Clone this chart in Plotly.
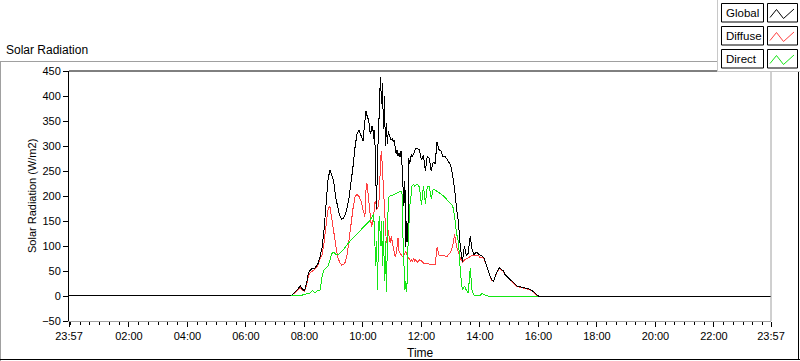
import pandas as pd
import plotly.graph_objects as go

# ---------------- data ----------------
DAY = "2024-01-02"
X_START = "2024-01-01 23:57"
X_END = "2024-01-02 23:57"
NIGHT_VALUE = 0

TIMES = [
    "07:20", "07:24", "07:28", "07:32", "07:36", "07:40", "07:44", "07:48",
    "07:52", "07:56", "08:00", "08:04", "08:08", "08:12", "08:16", "08:20",
    "08:24", "08:28", "08:32", "08:36", "08:40", "08:44", "08:48", "08:52",
    "08:56", "09:00", "09:04", "09:08", "09:12", "09:16", "09:20", "09:24",
    "09:28", "09:32", "09:36", "09:40", "09:44", "09:48", "09:52", "09:56",
    "10:00",
    "10:02", "10:04", "10:06", "10:08", "10:10", "10:12", "10:14", "10:16",
    "10:18", "10:20", "10:22", "10:24", "10:26", "10:28", "10:30", "10:32",
    "10:34", "10:36", "10:38", "10:40", "10:42", "10:44", "10:46", "10:48",
    "10:50", "10:52", "10:54", "10:56", "10:58", "11:00", "11:02", "11:04",
    "11:06", "11:08", "11:10", "11:12", "11:14", "11:16", "11:18", "11:20",
    "11:22", "11:24", "11:26", "11:28", "11:30", "11:32", "11:34", "11:36",
    "11:38", "11:40", "11:42", "11:44", "11:46", "11:48",
    "11:52", "11:56", "12:00", "12:04", "12:08", "12:12", "12:16", "12:20",
    "12:24", "12:28", "12:32", "12:36", "12:40", "12:44", "12:48", "12:52",
    "12:56", "13:00", "13:04", "13:08", "13:12", "13:16", "13:20", "13:24",
    "13:28", "13:32", "13:36", "13:40", "13:44", "13:48", "13:52", "13:56",
    "14:00", "14:04", "14:08", "14:12", "14:16", "14:20", "14:24", "14:28",
    "14:32", "14:36", "14:40", "14:44", "14:48", "14:52", "14:56", "15:00",
    "15:04", "15:08", "15:12", "15:16", "15:20", "15:24", "15:28", "15:32",
    "15:36", "15:40", "15:44", "15:48", "15:52", "15:56", "16:00", "16:04",
]

GLOBAL = [
    0, 0, 0, 1, 3, 7, 11, 17,
    20, 13, 11, 24, 45, 52, 55, 54,
    60, 65, 79, 96, 130, 178, 230, 252,
    241, 230, 198, 178, 161, 154, 156, 163,
    178, 200, 228, 262, 300, 325, 332, 322,
    310,
    330, 350, 370, 362, 355, 350, 330, 325,
    340, 338, 315, 332, 250, 175, 290, 320,
    395, 437, 385, 425, 335, 400, 300, 345,
    305, 330, 322, 318, 312, 315, 308, 312,
    295, 285, 292, 280, 285, 278, 290, 265,
    220, 180, 230, 99, 150, 108, 275, 265,
    278, 282, 280, 286, 290, 295,
    295, 292, 272, 281, 250, 280, 276, 250,
    268, 265, 308, 293, 290, 279, 280, 273,
    269, 262, 240, 215, 175, 146, 95, 68,
    100, 80, 86, 120, 92, 82, 88, 84,
    82, 80, 76, 66, 52, 42, 33, 30,
    42, 51, 56, 53, 50, 42, 38, 35,
    30, 26, 22, 20, 19, 18, 17, 17,
    16, 15, 13, 10, 6, 3, 0, 0,
]

DIFFUSE = [
    0, 0, 0, 1, 3, 6, 10, 14,
    16, 12, 10, 21, 40, 47, 50, 52,
    57, 62, 75, 82, 105, 138, 172, 180,
    155, 125, 97, 78, 68, 62, 63, 68,
    85, 115, 155, 178, 199, 203, 199, 190,
    173,
    165, 159, 210, 226, 210, 195, 170, 150,
    139, 148, 160, 186, 190, 173, 176, 180,
    205, 275, 290, 253, 230, 186, 150, 106,
    120, 132, 115, 106, 119, 110, 99, 88,
    79, 84, 100, 116, 90, 86, 82, 80,
    79, 82, 85, 89, 82, 79, 74, 72,
    69, 72, 70, 75, 69, 72,
    68, 72, 70, 66, 66, 65, 64, 63,
    62, 63, 97, 82, 80, 82, 80, 78,
    84, 88, 100, 124, 98, 84, 75, 68,
    72, 75, 76, 79, 82, 80, 82, 82,
    77, 77, 75, 65, 51, 41, 32, 29,
    41, 50, 55, 52, 49, 41, 37, 34,
    29, 25, 21, 19, 18, 17, 16, 16,
    15, 14, 12, 9, 5, 2, 0, 0,
]

DIRECT = [
    None, None, None, 0, 0, 0, 0, 1,
    1, 2, 3, 4, 5, 6, 11, 7,
    8, 12, 12, 38, 52, 56, 60, 70,
    85, 88, 83, 82, 85, 89, 93, 99,
    103, 108, 112, 116, 119, 123, 127, 131,
    135,
    138, 140, 142, 144, 146, 149, 151, 154,
    157, 161, 163, 120, 60, 110, 12, 140,
    159, 100, 150, 60, 150, 30, 110, 9,
    130, 195, 199, 201, 200, 201, 203, 203,
    204, 205, 206, 207, 208, 209, 209, 209,
    120, 50, 12, 30, 9, 90, 160, 180,
    193, 219, 222, 223, 220, 222,
    223, 218, 182, 220, 185, 218, 219, 195,
    213, 212, 209, 207, 204, 201, 197, 193,
    190, 186, 181, 160, 125, 108, 45, 12,
    20, 12, 6, 55, 8, 2, 1, 0,
    1, 5, 3, 1, 0, 0, 0, 0,
    1, 1, 1, 1, 0, 0, 0, 0,
    0, 0, 0, 0, 0, 0, 0, 0,
    0, 0, 0, 0, 0, 0, 0, None,
]

Y_TICKS = [-50, 0, 50, 100, 150, 200, 250, 300, 350, 400, 450]
X_TICK_TIMES = [X_START] + [f"{DAY} {h:02d}:00" for h in range(2, 24, 2)] + [X_END]
X_TICK_LABELS = ["23:57", "02:00", "04:00", "06:00", "08:00", "10:00", "12:00",
                 "14:00", "16:00", "18:00", "20:00", "22:00", "23:57"]

SERIES_NAMES = ["Global", "Diffuse", "Direct"]
COLORS = {"Global": "#000000", "Diffuse": "#FF4040", "Direct": "#14E614"}

# ---------------- figure ----------------
W, H = 800, 361
L, R, T, B = 69, 29, 71, 40
PW, PH = W - L - R, H - T - B
FONT = "Liberation Sans, Arial, sans-serif"


def px(x):
    return (x - L) / PW


def py(y):
    return (H - B - y) / PH


times = [pd.Timestamp(f"{DAY} {t}") for t in TIMES]
x_full = [pd.Timestamp(X_START)] + times + [pd.Timestamp(X_END)]

fig = go.Figure()
fig.add_trace(go.Scatter(x=x_full, y=[NIGHT_VALUE] + DIFFUSE + [NIGHT_VALUE], mode="lines",
                         line=dict(color=COLORS["Diffuse"], width=1), name="Diffuse"))
fig.add_trace(go.Scatter(x=x_full, y=[NIGHT_VALUE] + GLOBAL + [NIGHT_VALUE], mode="lines",
                         line=dict(color=COLORS["Global"], width=1), name="Global"))
fig.add_trace(go.Scatter(x=times, y=DIRECT, mode="lines",
                         line=dict(color=COLORS["Direct"], width=1), name="Direct"))

fig.update_layout(
    width=W, height=H,
    margin=dict(l=L, r=R, t=T, b=B, pad=0),
    paper_bgcolor="white", plot_bgcolor="white",
    showlegend=False,
    font=dict(family=FONT, size=11, color="#000000"),
)
fig.update_xaxes(
    type="date", range=[X_START, X_END],
    tickvals=X_TICK_TIMES, ticktext=X_TICK_LABELS,
    ticks="outside", ticklen=5, tickcolor="#000000", tickwidth=1,
    showline=True, linecolor="#a0a0a0", linewidth=1, mirror=False,
    showgrid=False, zeroline=False,
    tickfont=dict(family=FONT, size=11, color="#000000"),
    minor=dict(dtick=20 * 60 * 1000, tick0=f"{DAY} 00:00", ticks="outside",
               ticklen=3, tickcolor="#000000", showgrid=False),
)
fig.update_yaxes(
    range=[-50, 450], tickvals=Y_TICKS,
    ticks="outside", ticklen=5, tickcolor="#000000", tickwidth=1,
    showline=True, linecolor="#000000", linewidth=1, mirror=False,
    showgrid=False, zeroline=False,
    tickfont=dict(family=FONT, size=11, color="#000000"),
)

shapes = []
# plot frame: top black, right light gray
shapes.append(dict(type="line", xref="paper", yref="paper", x0=0, x1=1, y0=1, y1=1,
                   line=dict(color="#000000", width=1)))
shapes.append(dict(type="line", xref="paper", yref="paper", x0=1, x1=1, y0=0, y1=1,
                   line=dict(color="#a0a0a0", width=1)))
# panel border
shapes.append(dict(type="line", xref="paper", yref="paper", x0=px(0), x1=px(717),
                   y0=py(61.5), y1=py(61.5), line=dict(color="#a0a0a0", width=1)))
shapes.append(dict(type="line", xref="paper", yref="paper", x0=px(0.5), x1=px(0.5),
                   y0=py(61), y1=py(361), line=dict(color="#a0a0a0", width=1)))
shapes.append(dict(type="line", xref="paper", yref="paper", x0=px(0), x1=px(800),
                   y0=py(359.5), y1=py(359.5), line=dict(color="#000000", width=1)))
shapes.append(dict(type="line", xref="paper", yref="paper", x0=px(798.5), x1=px(798.5),
                   y0=py(72), y1=py(360), line=dict(color="#000000", width=1)))
# legend background
shapes.append(dict(type="rect", xref="paper", yref="paper", x0=px(717), x1=px(800),
                   y0=py(0), y1=py(72), fillcolor="white", line=dict(width=0)))
shapes.append(dict(type="line", xref="paper", yref="paper", x0=px(717.5), x1=px(717.5),
                   y0=py(0), y1=py(72), line=dict(color="#c8c8c8", width=1)))
shapes.append(dict(type="line", xref="paper", yref="paper", x0=px(717), x1=px(800),
                   y0=py(71.5), y1=py(71.5), line=dict(color="#c8c8c8", width=1)))

annotations = []
box_tops = [3.5, 26.5, 49.5]
for name, top in zip(SERIES_NAMES, box_tops):
    bot = top + 18.5
    shapes.append(dict(type="rect", xref="paper", yref="paper", x0=px(721.5), x1=px(763.5),
                       y0=py(bot), y1=py(top), fillcolor="white",
                       line=dict(color="#000000", width=1)))
    shapes.append(dict(type="rect", xref="paper", yref="paper", x0=px(767.5), x1=px(797.5),
                       y0=py(bot), y1=py(top), fillcolor="white",
                       line=dict(color="#000000", width=1)))
    pts = [(770, top + 14), (776.5, top + 6), (783.5, top + 15), (794, top + 5.5)]
    path = "M " + " L ".join(f"{px(a):.5f},{py(b):.5f}" for a, b in pts)
    shapes.append(dict(type="path", xref="paper", yref="paper", path=path,
                       line=dict(color=COLORS[name], width=1)))
    annotations.append(dict(text=name, xref="paper", yref="paper", x=px(724),
                            y=py(top + 9.5), xanchor="left", yanchor="middle",
                            showarrow=False, font=dict(family=FONT, size=11.5, color="#000000")))

annotations.append(dict(text="Solar Radiation", xref="paper", yref="paper", x=px(4), y=py(50),
                        xanchor="left", yanchor="middle", showarrow=False,
                        font=dict(family=FONT, size=12, color="#000000")))
annotations.append(dict(text="Solar Radiation (W/m2)", xref="paper", yref="paper",
                        x=px(32), y=py(196), xanchor="center", yanchor="middle",
                        textangle=-90, showarrow=False,
                        font=dict(family=FONT, size=11, color="#000000")))
annotations.append(dict(text="Time", xref="paper", yref="paper", x=px(420), y=py(353),
                        xanchor="center", yanchor="middle", showarrow=False,
                        font=dict(family=FONT, size=12, color="#000000")))

fig.update_layout(shapes=shapes, annotations=annotations)
fig.write_html(
    "out.html",
    config={"displayModeBar": False},
    post_script=(
        "document.body.style.margin='0px';document.body.style.padding='0px';"
        "var s=document.createElement('style');"
        "s.innerHTML='.scatterlayer path.js-line{shape-rendering:crispEdges;}';"
        "document.head.appendChild(s);"
    ),
)
